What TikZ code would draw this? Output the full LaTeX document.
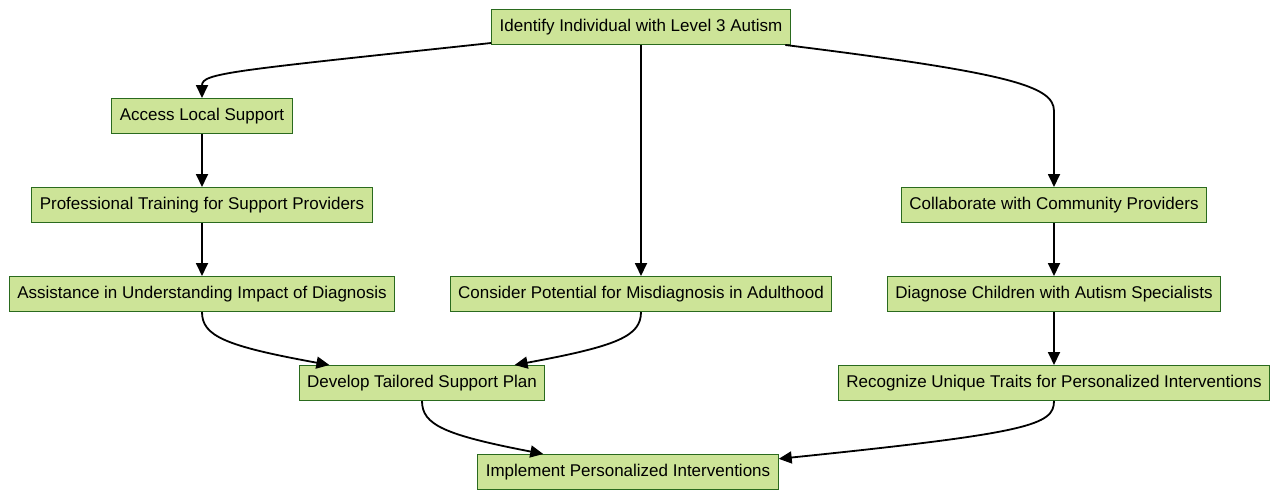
\documentclass[tikz,border=0pt]{standalone}
\usepackage{fontspec}
\setmainfont{Liberation Sans}
\usepackage{tikz}
\usetikzlibrary{arrows.meta}
\definecolor{stepFill}{HTML}{CDE498}
\definecolor{stepBorder}{HTML}{2A6A1E}
\tikzstyle{fStep} = [rectangle, minimum height=35pt, inner xsep=8pt, text centered, draw=stepBorder, line width=1pt, fill=stepFill, font=\fontsize{17}{20}\selectfont]
\tikzstyle{fArrow} = [line width=1.8pt, -{Triangle[length=13pt, width=12pt]}]

\begin{document}
\begin{tikzpicture}[x=1pt, y=-1pt, node distance=89pt]
    \useasboundingbox (0,0) rectangle (1280,499);
    \node (identify) [fStep] at (641,27) {Identify Individual with Level 3 Autism};
    \node (access) [fStep, below of=identify, xshift=-439pt] {Access Local Support};
    \node (training) [fStep, below of=access] {Professional Training for Support Providers};
    \node (assist) [fStep, below of=training] {Assistance in Understanding Impact of Diagnosis};
    \node (consider) [fStep, below of=identify, yshift=-178pt] {Consider Potential for Misdiagnosis in Adulthood};
    \node (collab) [fStep, below of=identify, xshift=413pt, yshift=-89pt] {Collaborate with Community Providers};
    \node (diagnose) [fStep, below of=collab] {Diagnose Children with Autism Specialists};
    \node (recognize) [fStep, below of=diagnose] {Recognize Unique Traits for Personalized Interventions};
    \node (develop) [fStep, below of=assist, xshift=220pt] {Develop Tailored Support Plan};
    \node (implement) [fStep, below of=develop, xshift=206pt] {Implement Personalized Interventions};

    \draw [fArrow] (identify) .. controls (230,71) and (202,73) .. (access);
    \draw [fArrow] (identify) -- (consider);
    \draw [fArrow] (identify) .. controls (1010,73) and (1054,86) .. (collab.north |- 0,111) -- (collab);
    \draw [fArrow] (access) -- (training);
    \draw [fArrow] (training) -- (assist);
    \draw [fArrow] (collab) -- (diagnose);
    \draw [fArrow] (diagnose) -- (recognize);
    \draw [fArrow] (assist.south) .. controls (202,336) and (225,346) .. (develop.169);
    \draw [fArrow] (consider.south) .. controls (641,336) and (618,346) .. (develop.11);
    \draw [fArrow] (develop.south) .. controls (422,425) and (445,435) .. (implement.168);
    \draw [fArrow] (recognize.south) .. controls (1054,425) and (1030,433) .. (implement.5);
\end{tikzpicture}
\end{document}
